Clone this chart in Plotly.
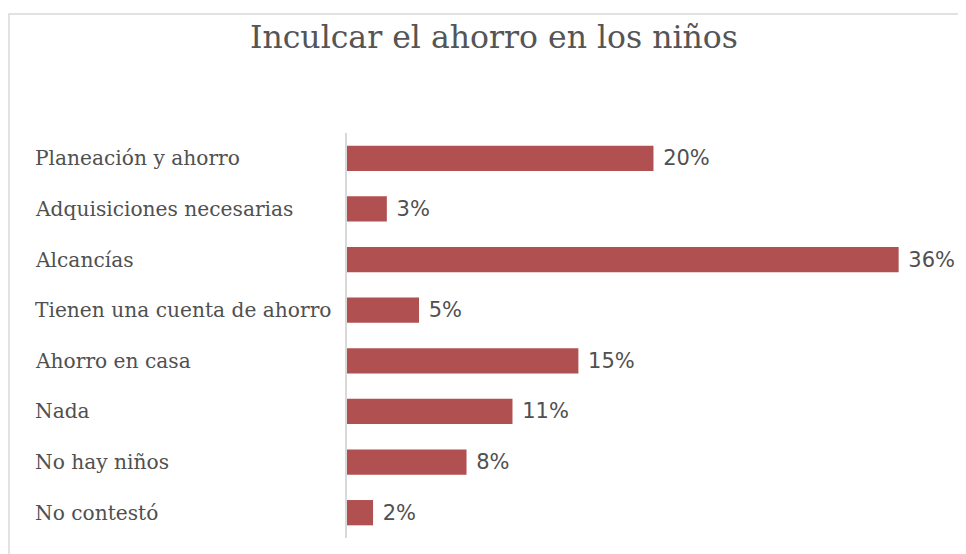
import plotly.graph_objects as go

categories = ["Planeación y ahorro", "Adquisiciones necesarias", "Alcancías",
              "Tienen una cuenta de ahorro", "Ahorro en casa", "Nada",
              "No hay niños", "No contestó"]
values = [0.200, 0.026, 0.360, 0.047, 0.151, 0.108, 0.078, 0.017]

W, H = 958, 546
L, R, T, B = 339, 26, 125, 16
pw, ph = W - L - R, H - T - B

fig = go.Figure(go.Bar(
    x=values, y=categories, orientation="h",
    marker=dict(color="#b05050", line=dict(width=0)),
    texttemplate=" %{x:.0%}", textposition="outside", cliponaxis=False,
    textfont=dict(family="DejaVu Sans", size=21, color="#505050"),
    width=0.5,
))

for c in categories:
    fig.add_annotation(x=(25 - L) / pw, xref="paper", xanchor="left",
                       y=c, yref="y", text=c, showarrow=False,
                       font=dict(family="DejaVu Serif", size=20.2, color="#505050"))

fig.add_shape(type="rect", xref="paper", yref="paper",
              x0=(1 - L) / pw, x1=(W + 20 - L) / pw,
              y0=-(B + 20) / ph, y1=(H - B - 6) / ph,
              line=dict(color="#d9d9d9", width=1.5), fillcolor="rgba(0,0,0,0)", layer="below")

fig.update_layout(
    width=W, height=H,
    margin=dict(l=L, r=R, t=T, b=B),
    paper_bgcolor="white", plot_bgcolor="white",
    title=dict(text="Inculcar el ahorro en los niños", x=486 / W, xref="container",
               xanchor="center", y=1 - 29 / H, yref="container", yanchor="middle",
               font=dict(family="DejaVu Serif", size=31.5, color="#555555")),
    xaxis=dict(range=[0, 0.387], showgrid=False, showticklabels=False, zeroline=False,
               showline=False, fixedrange=True),
    yaxis=dict(autorange="reversed", showticklabels=False, showgrid=False,
               showline=True, linecolor="#d9d9d9", linewidth=1.5, ticks=""),
    showlegend=False,
)

fig.write_html("out.html")
